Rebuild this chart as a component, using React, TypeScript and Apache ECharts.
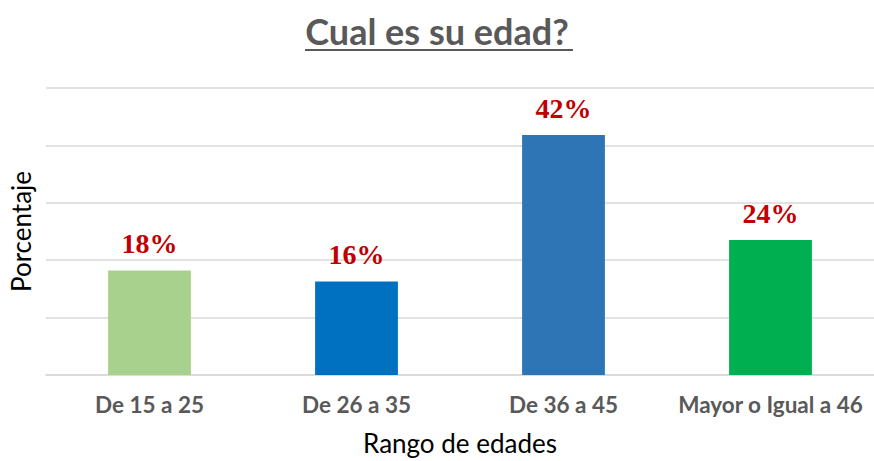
import React, { useEffect, useRef } from "react";
import * as echarts from "echarts";

const categories = ["De 15 a 25", "De 26 a 35", "De 36 a 45", "Mayor o Igual a 46"];
const values = [18.2, 16.3, 41.8, 23.5];
const barColors = ["#A9D18E", "#0070C0", "#2E75B6", "#00B050"];
const titleText = "Cual es su edad?";
const xName = "Rango de edades";
const yName = "Porcentaje";

export default function App() {
  const ref = useRef<HTMLDivElement>(null);
  useEffect(() => {
    if (!ref.current) return;
    const chart = echarts.init(ref.current, null, { renderer: "svg" });
    chart.setOption({
      animation: false,
      backgroundColor: "#ffffff",
      graphic: [
        {
          type: "text",
          left: "center",
          top: 13,
          style: {
            text: titleText,
            fontFamily: "Lato",
            fontWeight: "bold",
            fontSize: 36,
            fill: "#595959",
          },
        },
        {
          type: "rect",
          shape: { x: 305, y: 49, width: 268, height: 2 },
          style: { fill: "#595959" },
        },
      ],
      grid: { left: 45, top: 88, width: 830, height: 290.5 },
      xAxis: {
        type: "category",
        data: categories,
        name: xName,
        nameLocation: "middle",
        nameGap: 55,
        nameTextStyle: { fontFamily: "Lato", fontSize: 26, color: "#000000" },
        axisLine: { lineStyle: { color: "#D9D9D9", width: 1.5 } },
        axisTick: { show: false },
        axisLabel: {
          fontFamily: "Lato",
          fontWeight: "bold",
          fontSize: 22.5,
          color: "#595959",
          margin: 18,
          interval: 0,
        },
      },
      yAxis: {
        type: "value",
        min: 0,
        max: 50,
        interval: 10,
        name: yName,
        nameLocation: "middle",
        nameGap: 12,
        nameTextStyle: { fontFamily: "Lato", fontSize: 26, color: "#000000" },
        axisLine: { show: false },
        axisTick: { show: false },
        axisLabel: { show: false },
        splitLine: { lineStyle: { color: "#D9D9D9", width: 1.5 } },
      },
      series: [
        {
          type: "bar",
          barWidth: "40%",
          data: values.map((v, i) => ({ value: v, itemStyle: { color: barColors[i] } })),
          label: {
            show: true,
            position: "top",
            distance: 13,
            formatter: (p: any) => Math.round(p.value) + "%",
            fontFamily: "Liberation Serif",
            fontWeight: "bold",
            fontSize: 28,
            color: "#C00000",
          },
        },
      ],
    });
    return () => chart.dispose();
  }, []);
  return (
    <div
      ref={ref}
      style={{ position: "fixed", left: 0, top: 0, width: 874, height: 461 }}
    />
  );
}
